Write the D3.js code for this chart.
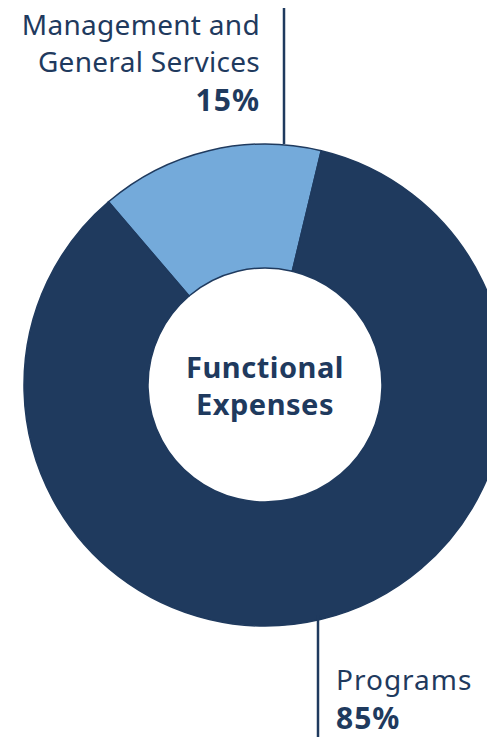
<!DOCTYPE html>
<html lang="en">
<head>
    <meta charset="utf-8">
    <title>Functional Expenses</title>
    <script src="https://cdn.jsdelivr.net/npm/d3@7"></script>
    <style>
        body { margin: 0; background: #fff; }
        svg { display: block; }
        text { font-family: "Noto Sans", sans-serif; fill: #1f3a5e; }
    </style>
</head>
<body>
    <script>
        // data
        var categories = ["Management and General Services", "Programs"];
        var values = [15, 85];
        var colors = ["#74aada", "#1f3a5e"];

        var w = 487, h = 737;
        var cx = 265, cy = 385;
        var outerR = 241, innerR = 117;

        var svg = d3.select("body").append("svg")
            .attr("width", w)
            .attr("height", h);

        var pie = d3.pie()
            .sort(null)
            .startAngle(-40.5 * Math.PI / 180)
            .endAngle((360 - 40.5) * Math.PI / 180);

        var arc = d3.arc().innerRadius(innerR).outerRadius(outerR);

        var g = svg.append("g").attr("transform", "translate(" + cx + "," + cy + ")");

        g.selectAll("path")
            .data(pie(values))
            .enter()
            .append("path")
            .attr("d", arc)
            .attr("fill", function(d, i) { return colors[i]; })
            .attr("stroke", "#1f3a5e")
            .attr("stroke-width", 1.5);

        // leader lines
        svg.append("line")
            .attr("x1", 284).attr("x2", 284)
            .attr("y1", 8).attr("y2", cy - outerR)
            .attr("stroke", "#1f3a5e").attr("stroke-width", 2.5);

        svg.append("line")
            .attr("x1", 318).attr("x2", 318)
            .attr("y1", 615).attr("y2", h)
            .attr("stroke", "#1f3a5e").attr("stroke-width", 2.5);

        // labels
        var topLabel = svg.append("text").attr("text-anchor", "end")
            .attr("font-size", 28).attr("letter-spacing", 0.3);
        topLabel.append("tspan").attr("x", 260).attr("y", 35).text("Management and");
        topLabel.append("tspan").attr("x", 260).attr("y", 72).text("General Services");
        topLabel.append("tspan").attr("x", 260).attr("y", 111)
            .attr("font-weight", "bold").attr("font-size", 30).attr("letter-spacing", 1)
            .text(values[0] + "%");

        var botLabel = svg.append("text").attr("text-anchor", "start")
            .attr("font-size", 28).attr("letter-spacing", 1);
        botLabel.append("tspan").attr("x", 336).attr("y", 690).text("Programs");
        botLabel.append("tspan").attr("x", 336).attr("y", 729)
            .attr("font-weight", "bold").attr("font-size", 30)
            .text(values[1] + "%");

        var center = svg.append("text").attr("text-anchor", "middle")
            .attr("font-size", 29).attr("font-weight", "bold").attr("letter-spacing", 0.5);
        center.append("tspan").attr("x", cx).attr("y", 378).text("Functional");
        center.append("tspan").attr("x", cx).attr("y", 415).text("Expenses");
    </script>
</body>
</html>
